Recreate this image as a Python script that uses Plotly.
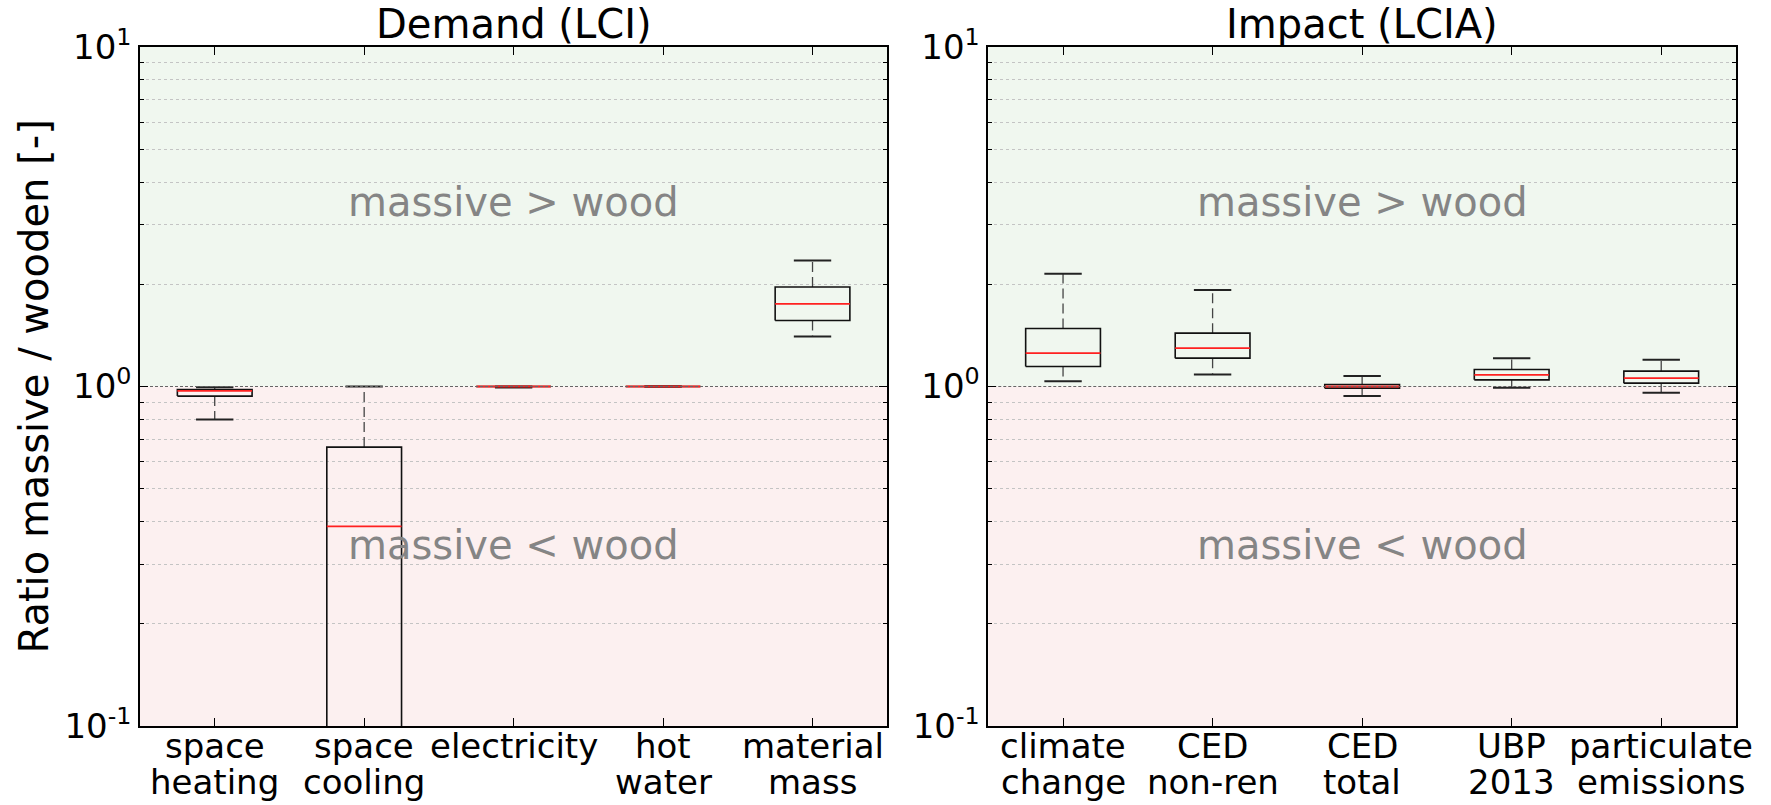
import numpy as np
import plotly.graph_objects as go

# ---- data: ratio massive / wooden, box statistics per indicator ----
lci_labels = ["space\nheating", "space\ncooling", "electricity", "hot\nwater", "material\nmass"]
lci_whislo = [0.800, 0.020, 0.993, 1.000, 1.403]
lci_q1 = [0.937, 0.050, 1.000, 1.000, 1.565]
lci_med = [0.971, 0.387, 1.000, 1.000, 1.752]
lci_q3 = [0.980, 0.663, 1.000, 1.000, 1.963]
lci_whishi = [0.995, 1.000, 1.000, 1.000, 2.350]

lcia_labels = ["climate\nchange", "CED\nnon-ren", "CED\ntotal", "UBP\n2013", "particulate\nemissions"]
lcia_whislo = [1.037, 1.085, 0.937, 0.991, 0.958]
lcia_q1 = [1.145, 1.212, 0.989, 1.046, 1.023]
lcia_med = [1.254, 1.297, 1.000, 1.082, 1.058]
lcia_q3 = [1.482, 1.436, 1.014, 1.122, 1.110]
lcia_whishi = [2.148, 1.923, 1.073, 1.212, 1.198]

panel_titles = ["Demand (LCI)", "Impact (LCIA)"]
y_title = "Ratio massive / wooden [-]"
upper_text = "massive > wood"
lower_text = "massive < wood"

FONT = "DejaVu Sans"
GREEN_BG = "#f0f7ef"
PINK_BG = "#fcf0f0"
BOX_HALF = 0.25
CAP_HALF = 0.125

fig = go.Figure()


def add_boxes(xa, ya, lo, q1, med, q3, hi):
    bx, by, wx, wy, cx, cy, mx, my = [], [], [], [], [], [], [], []
    for i in range(len(med)):
        p = i + 1
        bx += [p - BOX_HALF, p + BOX_HALF, p + BOX_HALF, p - BOX_HALF, p - BOX_HALF, None]
        by += [q1[i], q1[i], q3[i], q3[i], q1[i], None]
        wx += [p, p, None, p, p, None]
        wy += [q1[i], lo[i], None, q3[i], hi[i], None]
        cx += [p - CAP_HALF, p + CAP_HALF, None, p - CAP_HALF, p + CAP_HALF, None]
        cy += [lo[i], lo[i], None, hi[i], hi[i], None]
        mx += [p - BOX_HALF, p + BOX_HALF, None]
        my += [med[i], med[i], None]
    common = dict(xaxis=xa, yaxis=ya, mode="lines", showlegend=False, hoverinfo="skip")
    fig.add_trace(go.Scatter(x=wx, y=wy, line=dict(color="#444444", width=1.3, dash="10px,5px"), **common))
    fig.add_trace(go.Scatter(x=cx, y=cy, line=dict(color="#222222", width=2), **common))
    fig.add_trace(go.Scatter(x=bx, y=by, line=dict(color="#111111", width=1.6), **common))
    fig.add_trace(go.Scatter(x=mx, y=my, line=dict(color="#ff2020", width=1.8), **common))
    # reference ratio of 1
    fig.add_trace(go.Scatter(x=[0.5, 5.5], y=[1, 1], line=dict(color="#666666", width=1, dash="3px,2px"), **common))


add_boxes("x", "y", lci_whislo, lci_q1, lci_med, lci_q3, lci_whishi)
add_boxes("x2", "y2", lcia_whislo, lcia_q1, lcia_med, lcia_q3, lcia_whishi)

minor_vals = [v * s for s in (0.1, 1.0) for v in range(2, 10)]

yax = dict(
    type="log",
    range=[-1, 1],
    tickvals=[0.1, 1, 10],
    ticktext=["10<sup>-1</sup>", "10<sup>0</sup>", "10<sup>1</sup>"],
    tickfont=dict(family=FONT, size=34, color="black"),
    ticks="inside",
    ticklen=8,
    tickcolor="black",
    showgrid=False,
    showline=True,
    linecolor="black",
    linewidth=1.5,
    mirror="ticks",
    zeroline=False,
    minor=dict(tickvals=minor_vals, ticks="inside", ticklen=4, tickcolor="black",
               showgrid=True, gridcolor="#c4c4c4", griddash="3px,3px", gridwidth=1),
)
xax = dict(
    range=[0.5, 5.5],
    tickvals=[1, 2, 3, 4, 5],
    showticklabels=False,
    ticks="inside",
    ticklen=8,
    tickcolor="black",
    showgrid=False,
    zeroline=False,
    showline=True,
    linecolor="black",
    linewidth=1.5,
    mirror="ticks",
)

dom_left = [0.0, 0.4682]
dom_right = [0.5315, 1.0]

fig.update_layout(
    width=1771,
    height=805,
    margin=dict(l=140, r=35, t=47, b=79),
    paper_bgcolor="white",
    plot_bgcolor="white",
    xaxis=dict(domain=dom_left, anchor="y", **xax),
    xaxis2=dict(domain=dom_right, anchor="y2", **xax),
    yaxis=dict(anchor="x", **yax),
    yaxis2=dict(anchor="x2", **yax),
    showlegend=False,
)

# shaded halves: above 1 (massive > wood) and below 1 (massive < wood)
for xd, yd in (("x domain", "y domain"), ("x2 domain", "y2 domain")):
    fig.add_shape(type="rect", xref=xd, yref=yd, x0=0, x1=1, y0=0.5, y1=1,
                  fillcolor=GREEN_BG, line_width=0, layer="below")
    fig.add_shape(type="rect", xref=xd, yref=yd, x0=0, x1=1, y0=0, y1=0.5,
                  fillcolor=PINK_BG, line_width=0, layer="below")

annotations = []
for xr, yr, title in (("x", "y", panel_titles[0]), ("x2", "y2", panel_titles[1])):
    annotations.append(dict(text=title, xref=f"{xr} domain", yref="paper", x=0.5, y=1,
                            xanchor="center", yanchor="bottom", yshift=-2, showarrow=False,
                            font=dict(family=FONT, size=40, color="black")))
    annotations.append(dict(text=upper_text, xref=xr, yref=yr, x=3, y=np.log10(3.5),
                            xanchor="center", yanchor="middle", showarrow=False,
                            font=dict(family=FONT, size=40, color="#858585")))
    annotations.append(dict(text=lower_text, xref=xr, yref=yr, x=3, y=np.log10(0.342),
                            xanchor="center", yanchor="middle", showarrow=False,
                            font=dict(family=FONT, size=40, color="#858585")))

# category labels, two tightly spaced lines under each box
for xr, labels in (("x", lci_labels), ("x2", lcia_labels)):
    for i, lab in enumerate(labels):
        for j, line in enumerate(lab.split("\n")):
            annotations.append(dict(text=line, xref=xr, yref="paper", x=i + 1, y=0,
                                    xanchor="center", yanchor="middle", yshift=-20 - 36 * j,
                                    showarrow=False,
                                    font=dict(family=FONT, size=34, color="black")))

annotations.append(dict(text=y_title, xref="paper", yref="paper", x=0, y=0.5,
                        xanchor="center", yanchor="middle", xshift=-107, textangle=-90,
                        showarrow=False, font=dict(family=FONT, size=40, color="black")))

fig.update_layout(annotations=annotations)

fig.write_html("out.html")
